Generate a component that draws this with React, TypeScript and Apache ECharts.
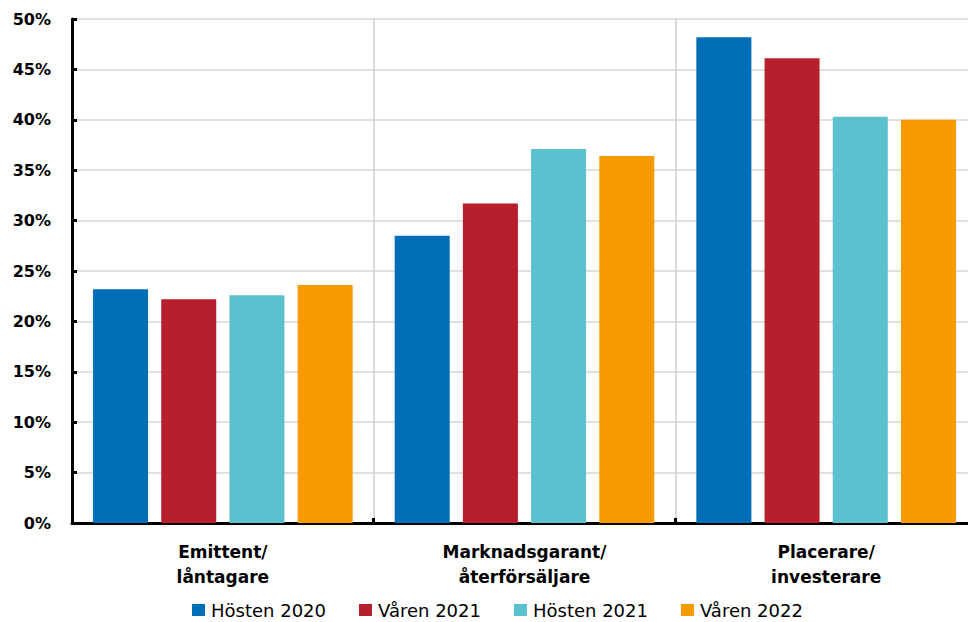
import React, { useEffect, useRef } from "react";
import * as echarts from "echarts";

const categories = ["Emittent/\nlåntagare", "Marknadsgarant/\nåterförsäljare", "Placerare/\ninvesterare"];
const seriesNames = ["Hösten 2020", "Våren 2021", "Hösten 2021", "Våren 2022"];
const hosten2020 = [23.2, 28.5, 48.2];
const varen2021 = [22.2, 31.7, 46.1];
const hosten2021 = [22.6, 37.1, 40.3];
const varen2022 = [23.6, 36.4, 40.0];
const seriesColors = ["#006eb6", "#b81f2d", "#5bc1cf", "#f59b00"];

const FONT = "'DejaVu Sans', 'Open Sans', sans-serif";

export default function App() {
  const ref = useRef<HTMLDivElement>(null);

  useEffect(() => {
    if (!ref.current) return;
    const chart = echarts.init(ref.current, undefined, { renderer: "svg" });
    const values = [hosten2020, varen2021, hosten2021, varen2022];
    chart.setOption({
      animation: false,
      backgroundColor: "#ffffff",
      textStyle: { fontFamily: FONT },
      legend: {
        top: 601,
        left: 192,
        padding: 0,
        itemWidth: 13,
        itemHeight: 12,
        itemGap: 33,
        icon: "rect",
        textStyle: { fontSize: 18, color: "#000", fontFamily: FONT, padding: [0, 0, 0, 1] },
        data: seriesNames,
      },
      grid: { left: 72, right: 0, top: 19, bottom: 99, containLabel: false },
      xAxis: {
        type: "category",
        data: categories,
        axisLine: { lineStyle: { color: "#000", width: 3 } },
        axisTick: { show: true, inside: true, length: 5, lineStyle: { color: "#000", width: 3 } },
        splitLine: { show: true, lineStyle: { color: "#cfcfcf", width: 1.5 } },
        axisLabel: {
          margin: 16,
          fontSize: 17,
          fontWeight: "bold",
          color: "#000",
          lineHeight: 25,
          fontFamily: FONT,
        },
      },
      yAxis: {
        type: "value",
        min: 0,
        max: 50,
        interval: 5,
        axisLine: { show: true, lineStyle: { color: "#000", width: 3 } },
        axisTick: { show: true, inside: true, length: 5, lineStyle: { color: "#000", width: 3 } },
        splitLine: { show: true, lineStyle: { color: "#d6d6d6", width: 1.5 } },
        axisLabel: {
          formatter: "{value}%",
          margin: 21,
          fontSize: 16,
          fontWeight: "bold",
          color: "#000",
          fontFamily: FONT,
        },
      },
      series: seriesNames.map((name, i) => ({
        name,
        type: "bar",
        data: values[i],
        barWidth: 55,
        barGap: "24%",
        itemStyle: { color: seriesColors[i] },
      })),
    });
    return () => chart.dispose();
  }, []);

  return (
    <div
      ref={ref}
      style={{ position: "fixed", left: 0, top: 0, width: 977, height: 622 }}
    />
  );
}
